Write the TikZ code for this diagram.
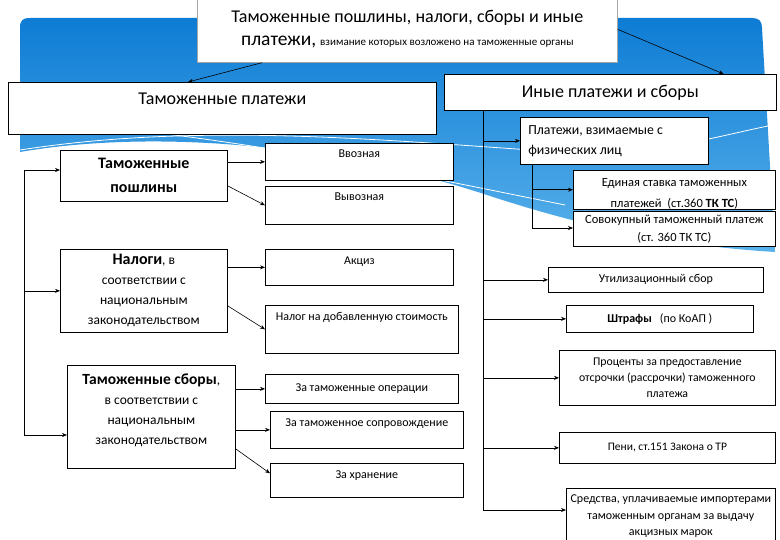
\documentclass[tikz,border=0pt]{standalone}
\usepackage{fontspec}
\setmainfont{Carlito}
\usetikzlibrary{arrows.meta}

\definecolor{slideblue}{RGB}{14,124,212}
\definecolor{slidelight}{RGB}{90,178,235}

\begin{document}
\begin{tikzpicture}[x=1pt,y=-1pt,
  plate/.style={draw,line width=0.7pt,fill=white,anchor=north west,inner sep=0pt,align=center},
  heading/.style={plate,font=\fontsize{18}{23}\selectfont},
  kind/.style={plate,font=\fontsize{13.5}{20}\selectfont},
  item/.style={plate,font=\fontsize{12}{16}\selectfont},
  feed/.style={-{Stealth[length=5pt,width=4pt]},line width=0.6pt},
  swoosh/.style={white,line width=0.8pt}
]
  \useasboundingbox (0,0) rectangle (780,540);

  % slide background
  \shade[top color=slideblue,bottom color=slidelight]
    (20,28) .. controls (20,21) and (22,18) .. (30,18) -- (752,18)
    .. controls (759,18) and (762,21) .. (762,28) -- (775,252)
    .. controls (660,245) and (570,222) .. (490,196)
    .. controls (340,146) and (160,128) .. (20,152) -- cycle;
  \draw[swoosh] (20,150) .. controls (200,122) and (380,140) .. (560,152)
    .. controls (650,158) and (720,135) .. (778,124);
  \draw[swoosh] (150,132) .. controls (300,150) and (430,178) .. (565,205);

  % headings
  \node[heading,draw=gray!70,minimum width=420pt,minimum height=66pt] (head) at (197,-4)
    {Таможенные пошлины, налоги, сборы и иные\\
     {\fontsize{19.5}{23}\selectfont платежи,} {\fontsize{11}{12}\selectfont взимание которых возложено на таможенные органы}};
  \node[heading,minimum width=428pt,text height=22pt,text depth=30pt] (tplat) at (8,82)
    {Таможенные платежи};
  \node[heading,minimum width=332pt,minimum height=36pt] (inye) at (444,74)
    {Иные платежи и сборы};

  % customs payments
  \node[kind,font=\bfseries\fontsize{16}{24}\selectfont,minimum width=167pt,minimum height=51pt] (tposh) at (60,150)
    {Таможенные\\пошлины};
  \node[kind,minimum width=167pt,minimum height=83pt] (nalog) at (60,249)
    {\textbf{\fontsize{16}{20}\selectfont Налоги}, в\\соответствии с\\национальным\\законодательством};
  \node[kind,minimum width=168pt,minimum height=103pt] (tsbor) at (67,365)
    {\textbf{\fontsize{15.5}{20}\selectfont Таможенные сборы},\\в соответствии с\\национальным\\законодательством\\[-4pt]};

  \node[item,minimum width=188pt,text height=14pt,text depth=23pt] (vvoz) at (265,143) {Ввозная};
  \node[item,minimum width=188pt,text height=14pt,text depth=24pt] (vyvoz) at (265,186) {Вывозная};
  \node[item,minimum width=188pt,text height=15pt,text depth=21pt] (akciz) at (265,249) {Акциз};
  \node[item,minimum width=193pt,text height=15pt,text depth=33pt] (nds) at (265,305) {Налог на добавленную стоимость};
  \node[item,minimum width=193pt,minimum height=29pt] (oper) at (265,374) {За таможенные операции};
  \node[item,minimum width=193pt,text height=15pt,text depth=22pt] (soprov) at (270,411) {За таможенное сопровождение};
  \node[item,minimum width=193pt,text height=15pt,text depth=19pt] (hran) at (270,463) {За хранение};

  % other payments
  \node[plate,font=\fontsize{13.8}{20}\selectfont,align=flush left,text width=172pt,inner xsep=8pt,minimum height=47pt] (fiz) at (520,117)
    {Платежи, взимаемые с\\физических лиц};
  \node[item,font=\fontsize{12.5}{21}\selectfont,minimum width=202pt,minimum height=38pt] (edin) at (573,170)
    {\rule{0pt}{16pt}Единая ставка таможенных\\платежей~ (ст.360 \textbf{ТК ТС})};
  \node[item,font=\fontsize{12.5}{18}\selectfont,minimum width=202pt,minimum height=35pt] (sovok) at (573,211)
    {Совокупный таможенный платеж\\(ст. 360 ТК ТС)};
  \node[item,minimum width=215pt,minimum height=25pt] (util) at (548,267)
    {Утилизационный сбор};
  \node[item,minimum width=187pt,minimum height=27pt] (shtraf) at (566,305)
    {\textbf{Штрафы}~~ (по КоАП )};
  \node[item,font=\fontsize{11.8}{16}\selectfont,minimum width=216pt,minimum height=55pt] (proc) at (559,350)
    {Проценты за предоставление\\отсрочки (рассрочки) таможенного\\платежа};
  \node[item,font=\fontsize{11.5}{16}\selectfont,minimum width=216pt,minimum height=31pt] (peni) at (559,432)
    {Пени, ст.151 Закона о ТР};
  \node[item,font=\fontsize{12}{16.5}\selectfont,minimum width=209pt,minimum height=56pt] (sredstva) at (566,488)
    {Средства, уплачиваемые импортерами\\таможенным органам за выдачу\\акцизных марок};

  % connectors
  \coordinate (ltop) at (24,170);
  \coordinate (lbot) at (24,435);
  \coordinate (rtrunk) at (483,510);
  \coordinate (ftrunk) at (532,228);

  \path[feed]
    ([xshift=65pt]head.south west) edge ([xshift=180pt]tplat.north west)
    (head.east) edge ([xshift=-53pt]inye.north east)
    (tposh.east |- vvoz.west) edge (vvoz.west)
    ([yshift=-10pt]tposh.east) edge (vyvoz.west)
    (nalog.east |- akciz.west) edge (akciz.west)
    ([yshift=-15pt]nalog.east) edge (nds.west)
    (tsbor.east |- oper.west) edge (oper.west)
    (tsbor.east |- soprov.west) edge (soprov.west)
    ([yshift=-32pt]tsbor.east) edge ([yshift=7pt]hran.west);

  \draw[feed] (lbot) -- (ltop) -- (ltop -| tposh.west);
  \draw[feed] (lbot |- nalog.west) -- (nalog.west);
  \draw[feed] (lbot) -- (lbot -| tsbor.west);

  \draw[line width=0.6pt] (rtrunk |- inye.south) -- (rtrunk);
  \path[feed]
    (rtrunk |- fiz.west) edge (fiz.west)
    (rtrunk |- util.west) edge (util.west)
    (rtrunk |- shtraf.west) edge (shtraf.west)
    (rtrunk |- proc.west) edge (proc.west)
    (rtrunk |- peni.west) edge (peni.west)
    (rtrunk) edge (rtrunk -| sredstva.west);

  \draw[feed] (ftrunk |- fiz.south) -- (ftrunk) -- (ftrunk -| sovok.west);
  \draw[feed] (ftrunk |- edin.west) -- (edin.west);
\end{tikzpicture}
\end{document}
